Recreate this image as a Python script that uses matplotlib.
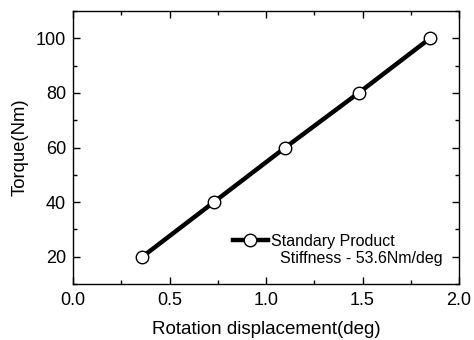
import matplotlib
matplotlib.use("Agg")
import matplotlib.pyplot as plt
from matplotlib.ticker import MultipleLocator
from matplotlib.lines import Line2D

plt.rcParams['font.family'] = ['Liberation Sans', 'DejaVu Sans']

rotation = [0.36, 0.73, 1.10, 1.48, 1.85]
torque = [20, 40, 60, 80, 100]
series_label = "Standary Product"
stiffness_label = "  Stiffness - 53.6Nm/deg"

fig = plt.figure(figsize=(4.74, 3.40), dpi=100)
ax = fig.add_axes([73/474, 1 - 284/340, (459-73)/474, (284-11)/340])

line, = ax.plot(rotation, torque, color='black', lw=3.2, marker='o', markersize=9,
                markerfacecolor='white', markeredgecolor='black', markeredgewidth=1)

ax.set_xlim(0, 2.0)
ax.set_ylim(10, 110)
ax.xaxis.set_major_locator(MultipleLocator(0.5))
ax.xaxis.set_minor_locator(MultipleLocator(0.25))
ax.yaxis.set_major_locator(MultipleLocator(20))
ax.yaxis.set_minor_locator(MultipleLocator(10))
ax.tick_params(which='both', direction='in', top=True, right=True, width=1, labelsize=13)
ax.tick_params(which='major', length=5)
ax.tick_params(which='minor', length=3)
ax.tick_params(axis='x', which='major', pad=5.5)
ax.tick_params(axis='y', which='major', pad=5)
for s in ax.spines.values():
    s.set_linewidth(1)

ax.set_xlabel('Rotation displacement(deg)', fontsize=13.5, labelpad=9)
ax.set_ylabel('Torque(Nm)', fontsize=13.3, labelpad=5)

blank = Line2D([], [], color='none')
leg = ax.legend([line, blank], [series_label, stiffness_label],
                loc='lower right', bbox_to_anchor=(0.978, 0.037), frameon=False,
                fontsize=11.5, handlelength=2.2, handletextpad=0.2, borderpad=0,
                labelspacing=0.12)

fig.savefig('out.png', dpi=100)
